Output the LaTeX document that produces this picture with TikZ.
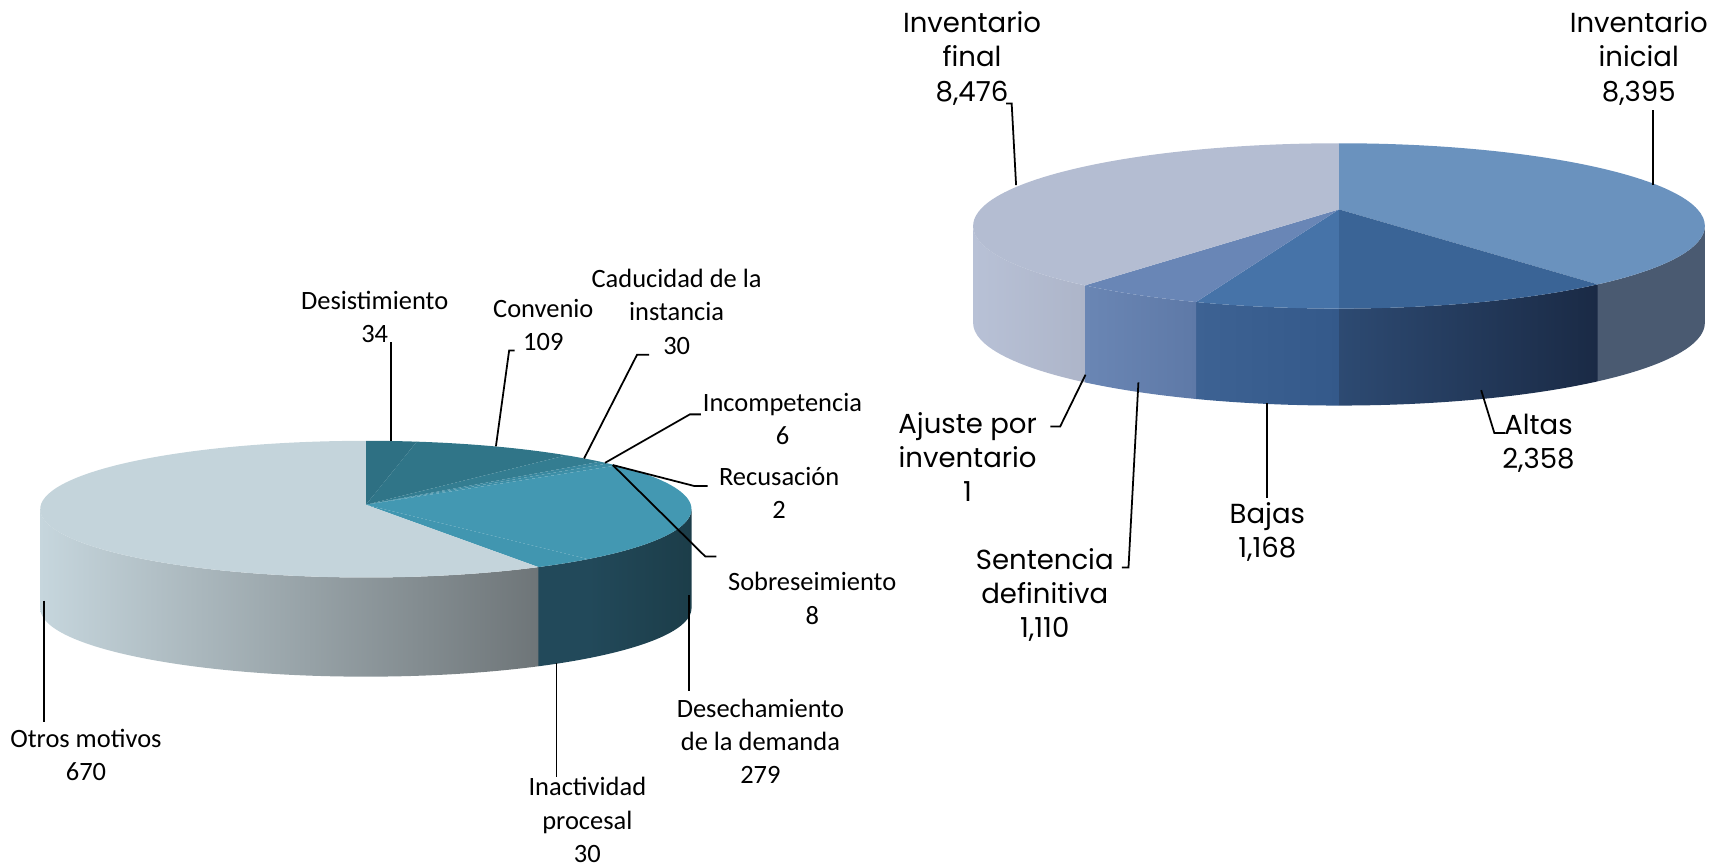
\documentclass[tikz,border=0pt]{standalone}
\usepackage{fontspec}
\setmainfont{Carlito}
\newfontfamily\gothicfont{Poppins}
\usetikzlibrary{calc}
\definecolor{desTop}{HTML}{2E7083}
\definecolor{convTop}{HTML}{307588}
\definecolor{caduTop}{HTML}{347D91}
\definecolor{incTop}{HTML}{3A889F}
\definecolor{sobTop}{HTML}{3E8FA7}
\definecolor{dechTop}{HTML}{4398B2}
\definecolor{inacTop}{HTML}{4196B0}
\definecolor{otrosTop}{HTML}{C4D4DB}
\definecolor{dechSideL}{HTML}{22495A}
\definecolor{dechSideR}{HTML}{1C3D49}
\definecolor{otrosSideL}{HTML}{C6D6DD}
\definecolor{otrosSideM}{HTML}{A4B0B5}
\definecolor{otrosSideR}{HTML}{6E7578}
\definecolor{iniTop}{HTML}{6A92BE}
\definecolor{altTop}{HTML}{3A6496}
\definecolor{bajTop}{HTML}{4673A8}
\definecolor{senTop}{HTML}{6986B6}
\definecolor{finTop}{HTML}{B4BDD2}
\definecolor{iniSide}{HTML}{4A5A71}
\definecolor{altSideL}{HTML}{2D4A72}
\definecolor{altSideR}{HTML}{1A2A45}
\definecolor{bajSideL}{HTML}{3D6293}
\definecolor{bajSideR}{HTML}{34598A}
\definecolor{senSideL}{HTML}{6A86B4}
\definecolor{senSideR}{HTML}{5E79A7}
\definecolor{finSideL}{HTML}{B8C1D6}
\definecolor{finSideR}{HTML}{ADB5C9}

\begin{document}
\begin{tikzpicture}[x=0.5pt, y=0.5pt,
        lbl/.style = {align=center, inner sep=0pt, font=\fontsize{12}{15}\selectfont},
        rlbl/.style = {align=center, inner sep=0pt, font=\gothicfont\fontsize{12.5}{15.5}\selectfont},
        leader/.style = {draw, line width=0.8pt},
        lpie/.style = {x radius=147.75pt, y radius=31pt},
        rpie/.style = {x radius=166pt, y radius=37.5pt}
    ]
    \useasboundingbox (0,0) rectangle (1568,-786);
    \coordinate (Lc) at (332,-462);
    \coordinate (La) at (332,-458);
    \coordinate (Rc) at (1215,-205);
    \coordinate (Ra) at (1215,-190);

    % left pie: sides, then tops
    \foreach \a/\b/\lc/\rc in {0/-47/dechSideL/dechSideR, -47/-58/dechSideL/dechSideL}
        \shade[left color=\lc, right color=\rc] ($(Lc)+(\a:147.75pt and 31pt)$) arc[lpie, start angle=\a, end angle=\b]
            -- ++(0,-90) arc[lpie, start angle=\b, end angle=\a] -- cycle;
    \shade[left color=otrosSideL, middle color=otrosSideM, right color=otrosSideR] ($(Lc)+(-58:147.75pt and 31pt)$) arc[lpie, start angle=-58, end angle=-180]
        -- ++(0,-90) arc[lpie, start angle=-180, end angle=-58] -- cycle;
    \foreach \a/\b/\c in {90/81/desTop, 81/52/convTop, 52/44/caduTop, 44/42/incTop, 42/39.7/sobTop, 39.7/-47/dechTop, -47/-58/inacTop, -58/-270/otrosTop}
        \fill[\c] (La) -- ($(Lc)+(\a:147.75pt and 31pt)$) arc[lpie, start angle=\a, end angle=\b] -- cycle;

    % right pie: sides, then tops
    \foreach \a/\b/\lc/\rc in {0/-45/iniSide/iniSide, -45/-90/altSideL/altSideR, -90/-113/bajSideL/bajSideR, -113/-134/senSideL/senSideR, -134/-180/finSideL/finSideR}
        \shade[left color=\lc, right color=\rc] ($(Rc)+(\a:166pt and 37.5pt)$) arc[rpie, start angle=\a, end angle=\b]
            -- ++(0,-88) arc[rpie, start angle=\b, end angle=\a] -- cycle;
    \foreach \a/\b/\c in {90/-45/iniTop, -45/-90/altTop, -90/-113/bajTop, -113/-134/senTop, -134/-270/finTop}
        \fill[\c] (Ra) -- ($(Rc)+(\a:166pt and 37.5pt)$) arc[rpie, start angle=\a, end angle=\b] -- cycle;

    % labels
    \node[lbl] (desist) at (340,-288) {Desistimiento\\34};
    \node[lbl] (conv) at (493,-295) {Convenio\\109};
    \node[lbl] (cadu) at (614,-283) {Caducidad de la\\instancia\\30};
    \node[lbl] (incomp) at (710,-380) {Incompetencia\\6};
    \node[lbl] (recus) at (707,-447) {Recusación\\2};
    \node[lbl] (sobre) at (737,-543) {Sobreseimiento\\8};
    \node[lbl] (desech) at (690,-673) {Desechamiento\\de la demanda\\279};
    \node[lbl] (inact) at (533,-744) {Inactividad\\procesal\\30};
    \node[lbl] (otros) at (78,-685) {Otros motivos\\670};

    \node[rlbl] (invfin) at (882,-53) {Inventario\\final\\8,476};
    \node[rlbl] (invini) at (1487,-53) {Inventario\\inicial\\8,395};
    \node[rlbl] (ajuste) at (878,-415) {Ajuste por\\inventario\\1};
    \node[rlbl] (sentencia) at (948,-540) {Sentencia\\definitiva\\1,110};
    \node[rlbl] (bajas) at (1150,-483) {Bajas\\1,168};
    \node[rlbl] (altas) at (1396,-402) {Altas\\2,358};

    % leader lines
    \coordinate (pDesist) at (355,-400);  \coordinate (kDesist) at (355,-310);
    \coordinate (pConv) at (450,-405);    \coordinate (kConv) at (462,-318);
    \coordinate (pCadu) at (530,-416);    \coordinate (kCadu) at (578,-322);
    \coordinate (pIncomp) at (549,-420);  \coordinate (kIncomp) at (626,-376);
    \coordinate (pRecus) at (556,-422);   \coordinate (kRecus) at (630,-441);
    \coordinate (kSobre) at (640,-505);
    \coordinate (pDesech) at (625,-540);  \coordinate (kDesech) at (625,-627);
    \coordinate (pInact) at (505,-602);   \coordinate (kInact) at (505,-705);
    \coordinate (pOtros) at (40,-545);    \coordinate (kOtros) at (40,-655);
    \draw[leader] (pDesist) -- (kDesist);
    \draw[leader] (pConv) -- (kConv) -- ++(5,0);
    \draw[leader] (pCadu) -- (kCadu) -- ++(11,0);
    \draw[leader] (pIncomp) -- (kIncomp) -- ++(10,0);
    \draw[leader] (pRecus) -- (kRecus) -- ++(12,0);
    \draw[leader] (pRecus) -- (kSobre) -- ++(10,0);
    \draw[leader] (pDesech) -- (kDesech);
    \draw[leader] (pInact) -- (kInact);
    \draw[leader] (pOtros) -- (kOtros);

    \coordinate (pInvfin) at (922,-168);  \coordinate (kInvfin) at (918,-94);
    \coordinate (pInvini) at (1500,-168); \coordinate (kInvini) at (1500,-100);
    \coordinate (pAltas) at (1344,-354);  \coordinate (kAltas) at (1356,-393);
    \coordinate (pBajas) at (1150,-366);  \coordinate (kBajas) at (1150,-452);
    \coordinate (pSent) at (1033,-347);   \coordinate (kSent) at (1024,-515);
    \coordinate (pAjuste) at (985,-340);  \coordinate (kAjuste) at (962,-387);
    \draw[leader] (pInvfin) -- (kInvfin) -- ++(-5,0);
    \draw[leader] (pInvini) -- (kInvini);
    \draw[leader] (pAltas) -- (kAltas) -- ++(10,0);
    \draw[leader] (pBajas) -- (kBajas);
    \draw[leader] (pSent) -- (kSent) -- ++(-6,0);
    \draw[leader] (pAjuste) -- (kAjuste) -- ++(-9,0);
\end{tikzpicture}
\end{document}
